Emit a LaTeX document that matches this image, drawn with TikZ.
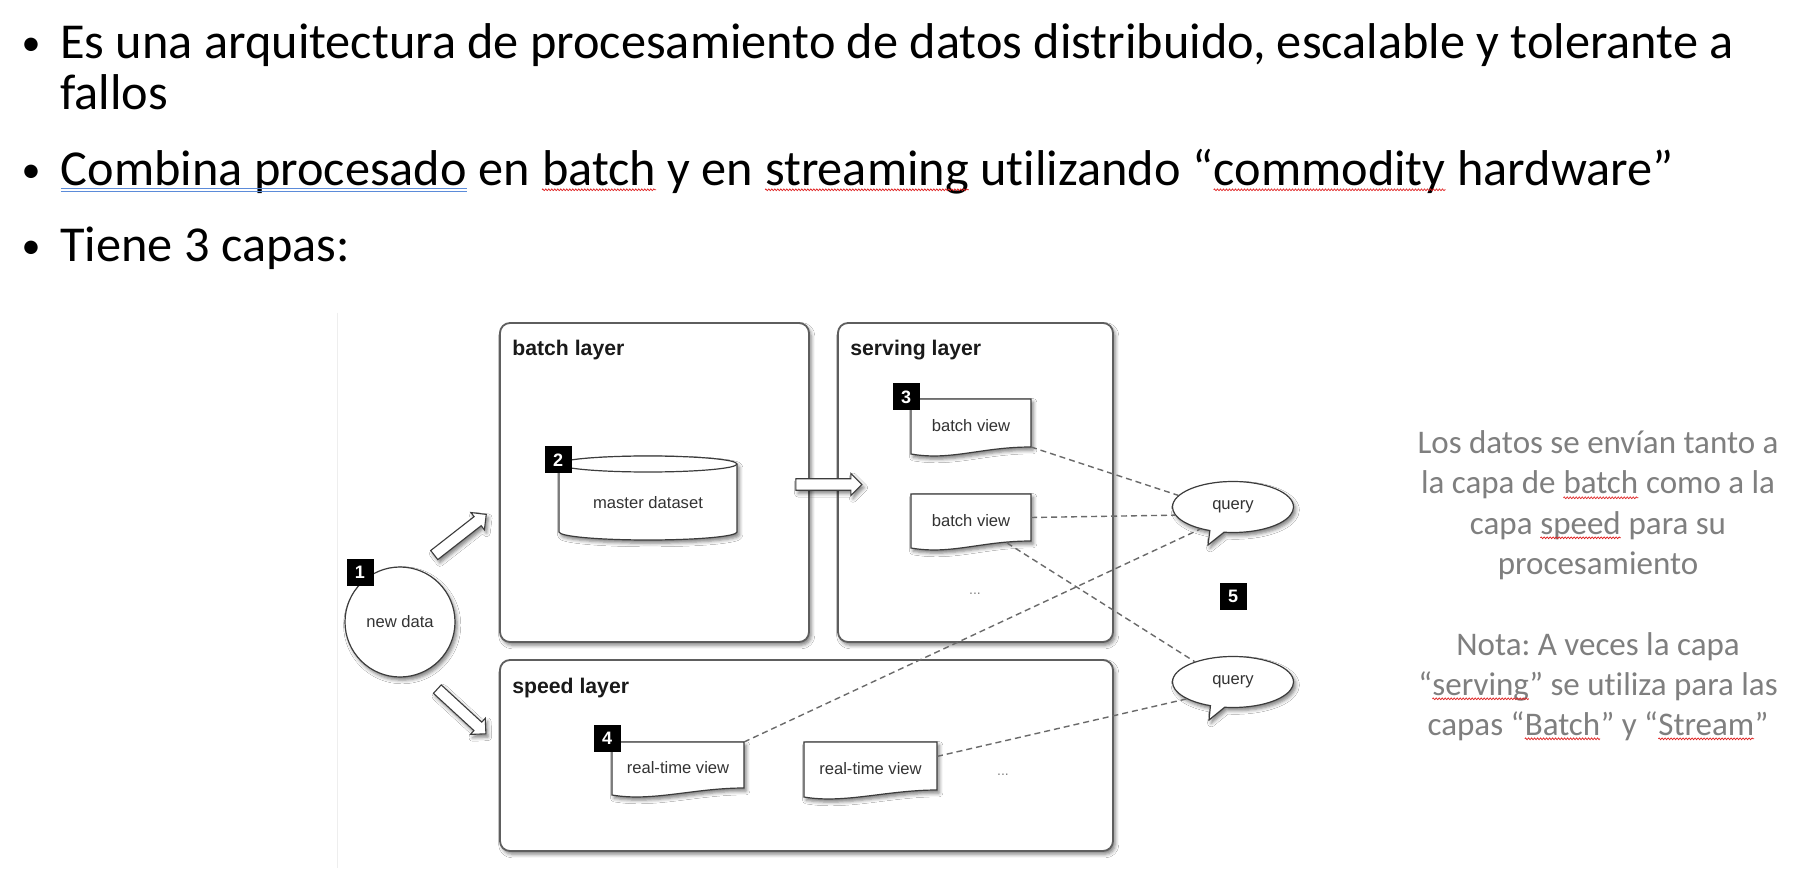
\documentclass[tikz,border=0pt]{standalone}
\usepackage{fontspec}
\setmainfont{Carlito}[Ligatures=NoCommon]
\newfontfamily\diagfont{Liberation Sans}
\usetikzlibrary{calc,shapes.geometric,shapes.arrows,shapes.callouts,shadows.blur,decorations.pathmorphing}
\frenchspacing

\definecolor{boxgray}{HTML}{5E5E5E}
\definecolor{shapegray}{HTML}{3C3C3C}
\definecolor{linkgray}{HTML}{6A6A6A}
\definecolor{labelgray}{HTML}{333333}
\definecolor{titleblack}{HTML}{1A1A1A}
\definecolor{notegray}{HTML}{7F7F7F}
\definecolor{spellred}{HTML}{E02020}
\definecolor{grammarblue}{HTML}{5B8BD9}
\definecolor{edgegray}{HTML}{EEEEEE}

% red wavy mark under a word
\newcommand\spellwave[1]{%
  \tikz[baseline=(sw.base)]{%
    \node[inner sep=0pt,outer sep=0pt,anchor=base,draw=none,fill=none] (sw) {#1};
    \draw[spellred,line width=0.35pt,decorate,
          decoration={zigzag,amplitude=0.45pt,segment length=1.5pt}]
      ([yshift=-1.9pt]sw.base west) -- ([yshift=-1.9pt]sw.base east);}}
% blue double line under a phrase
\newcommand\grammarline[1]{%
  \tikz[baseline=(gl.base)]{%
    \node[inner sep=0pt,outer sep=0pt,anchor=base,draw=none,fill=none] (gl) {#1};
    \draw[grammarblue,line width=0.5pt]
      ([yshift=-1.35pt]gl.base west) -- ([yshift=-1.35pt]gl.base east)
      ([yshift=-2.85pt]gl.base west) -- ([yshift=-2.85pt]gl.base east);}}

\tikzset{
  softshadow/.style={blur shadow={shadow xshift=1.1pt,shadow yshift=-1.6pt,
      shadow blur radius=1.8pt,shadow opacity=50}},
  bulletmark/.style={anchor=base,inner sep=0pt,font=\fontsize{19}{24}\selectfont},
  bulletline/.style={anchor=base west,inner sep=0pt,font=\fontsize{25.15}{30}\selectfont},
  noteline/.style={anchor=base,inner sep=0pt,text=notegray,font=\fontsize{16.5}{20}\selectfont},
  layerbox/.style={draw=boxgray,line width=0.9pt,rounded corners=5pt,fill=white,
      inner sep=0pt,outer sep=0pt,softshadow},
  layertitle/.style={anchor=base west,inner sep=0pt,text=titleblack,
      font=\diagfont\bfseries\fontsize{10.6}{12}\selectfont},
  shapebody/.style={rectangle,inner sep=0pt,outer sep=0pt},
  shapeline/.style={draw=shapegray,line width=0.6pt,fill=white},
  docline/.style={shapeline,softshadow},
  viewtext/.style={inner sep=0pt,text=labelgray,font=\diagfont\fontsize{8.3}{10}\selectfont},
  dotstext/.style={inner sep=0pt,text=gray,font=\diagfont\fontsize{7}{8}\selectfont},
  querybubble/.style={ellipse callout,draw=shapegray,line width=0.6pt,fill=white,
      minimum width=60.5pt,minimum height=25.5pt,inner sep=0pt,callout pointer arc=14,
      text=labelgray,font=\diagfont\fontsize{8.3}{10}\selectfont,softshadow},
  newdata/.style={circle,draw=shapegray,line width=0.6pt,fill=white,minimum size=55pt,
      inner sep=0pt,text=labelgray,font=\diagfont\fontsize{8.3}{10}\selectfont,softshadow},
  blockarrow/.style={single arrow,draw=shapegray,line width=0.55pt,fill=white,
      inner sep=2.6pt,single arrow head extend=2.6pt,minimum height=33pt,softshadow},
  badge/.style={rectangle,fill=black,text=white,minimum size=13.5pt,inner sep=0pt,
      font=\diagfont\bfseries\fontsize{9}{10}\selectfont},
  querylink/.style={draw=linkgray,line width=0.7pt,dash pattern=on 3pt off 2pt},
  imageedge/.style={draw=edgegray,line width=0.5pt},
}

\begin{document}
\begin{tikzpicture}[x=0.5pt,y=-0.5pt]
\useasboundingbox (0,0) rectangle (1813,892);
\fill[white] (0,0) rectangle (1813,892);

% bullet list
\node[bulletmark] (b1) at (31,56) {•};
\node[bulletline] (l1) at (60,59) {Es una arquitectura de procesamiento de datos distribuido, escalable y tolerante a};
\node[bulletline] (l1b) at (60,110) {fallos};
\node[bulletmark] (b2) at (31,183) {•};
\node[bulletline] (l2) at (60,186) {\grammarline{Combina procesado} en \spellwave{batch} y en \spellwave{streaming} utilizando “\spellwave{commodity} hardware”};
\node[bulletmark] (b3) at (31,259) {•};
\node[bulletline] (l3) at (60,262) {Tiene 3 capas:};

% side note
\node[noteline] (r1) at (1598,454) {Los datos se envían tanto a};
\node[noteline] (r2) at (1598,494) {la capa de \spellwave{batch} como a la};
\node[noteline] (r3) at (1598,534) {capa \spellwave{speed} para su};
\node[noteline] (r4) at (1598,574) {procesamiento};
\node[noteline] (r5) at (1598,655) {Nota: A veces la capa};
\node[noteline] (r6) at (1598,695) {“\spellwave{serving}” se utiliza para las};
\node[noteline] (r7) at (1598,735) {capas “\spellwave{Batch}” y “\spellwave{Stream}”};

% edge of the architecture figure
\draw[imageedge] (337,313) -- (337,868);

% layers
\node[layerbox,minimum width=154.5pt,minimum height=159.5pt] (batch) at (654.5,482.5) {};
\node[layerbox,minimum width=137.5pt,minimum height=159.5pt] (serving) at (975.5,482.5) {};
\node[layerbox,minimum width=306.5pt,minimum height=95.5pt] (speed) at (806.5,755.5) {};
\node[layertitle] (batcht) at (512,356) {batch layer};
\node[layertitle] (servingt) at (850,356) {serving layer};
\node[layertitle] (speedt) at (512,693) {speed layer};

% master dataset cylinder
\node[shapebody,minimum width=89pt,minimum height=34pt] (md) at (648,498) {};
\draw[docline] (md.north west) -- (md.south west)
  arc[start angle=180,end angle=0,x radius=89,y radius=8] -- (md.north east)
  arc[start angle=0,end angle=-180,x radius=89,y radius=8] -- cycle;
\draw[shapeline,fill=none] (md.north west) arc[start angle=180,end angle=0,x radius=89,y radius=8];
\node[viewtext] (mdt) at (648,503) {master dataset};

% views
\node[shapebody,minimum width=60pt,minimum height=24pt] (bv1) at (971,423) {};
\node[shapebody,minimum width=60pt,minimum height=23.5pt] (bv2) at (971,517.5) {};
\node[shapebody,minimum width=66pt,minimum height=23pt] (rt1) at (678,765) {};
\node[shapebody,minimum width=66.5pt,minimum height=24pt] (rt2) at (870.5,766) {};
\foreach \docnode in {bv1,bv2,rt1,rt2}
  \draw[docline] (\docnode.north west) -- (\docnode.north east) -- (\docnode.south east)
    .. controls ($(\docnode.south east)+(-50,0)$) and ($(\docnode.south west)+(40,14)$)
    .. ($(\docnode.south west)+(0,7)$) -- cycle;
\node[viewtext] (bv1t) at ($(bv1)+(0,3)$) {batch view};
\node[viewtext] (bv2t) at ($(bv2)+(0,3)$) {batch view};
\node[viewtext] (rt1t) at ($(rt1)+(0,3)$) {real-time view};
\node[viewtext] (rt2t) at ($(rt2)+(0,3)$) {real-time view};
\node[dotstext] (sdots) at (975,594) {...};
\node[dotstext] (pdots) at (1003,775) {...};

% queries
\node[querybubble,callout absolute pointer={(1208,545)}] (q1) at (1233,507) {query};
\node[querybubble,callout absolute pointer={(1209,720)}] (q2) at (1233,682) {query};
\draw[querylink] (bv1.south east) -- (q1.168);
\draw[querylink] (bv2.east) -- (q1.188);
\draw[querylink] ($(bv2.south east)+(-24,2)$) -- (q2.152);
\draw[querylink] (rt1.north east) -- (q1.214);
\draw[querylink] ($(rt2.north east)!0.3!(rt2.south east)$) -- (q2.200);

% incoming data
\node[newdata] (nd) at (400,622) {new data};
\node[blockarrow,rotate=38] (tobatch) at (458,536.5) {};
\node[blockarrow,rotate=-42.6] (tospeed) at (459.5,709.5) {};
\node[blockarrow] (toserving) at (826,484.5) {};

% step numbers
\node[badge] (n1) at (360,572) {1};
\node[badge] (n2) at (558,460) {2};
\node[badge] (n3) at (906,397) {3};
\node[badge] (n4) at (607,738) {4};
\node[badge] (n5) at (1233,596) {5};
\end{tikzpicture}
\end{document}
